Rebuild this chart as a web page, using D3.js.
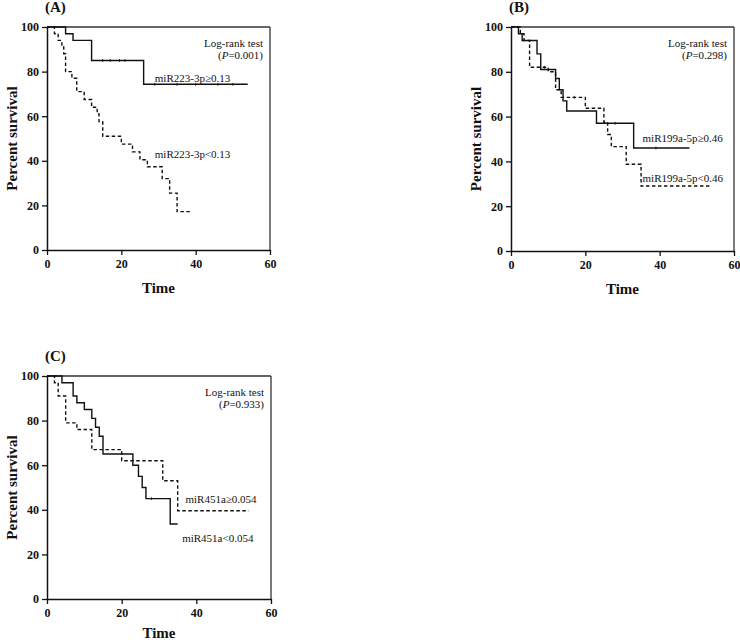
<!DOCTYPE html>
<html>
<head>
<meta charset="utf-8">
<script src="https://cdn.jsdelivr.net/npm/d3@7/dist/d3.min.js"></script>
<style>
  html, body { margin: 0; padding: 0; background: #fff; }
  svg { display: block; }
  text { font-family: "Liberation Serif", "Times New Roman", serif; fill: #111; }
</style>
</head>
<body>
<svg id="chart" width="740" height="643"></svg>
<script>
// ---------- data ----------
const xTicks = [0, 20, 40, 60];
const yTicks = [0, 20, 40, 60, 80, 100];

// Panel A: miR223-3p
const aHighTime = [0, 5, 7, 12, 26, 54];
const aHighSurv = [100, 97, 94, 85, 74.3, 74.3];
const aHighCens = [15, 17, 19.5, 21, 29, 35, 40, 46, 50];
const aLowTime = [0, 2, 3, 4, 4.5, 5, 6.7, 8, 10, 12, 13.5, 14, 15, 20, 23, 25, 27, 31, 33, 35, 39];
const aLowSurv = [100, 97, 94, 91, 88, 80, 77, 71, 67.5, 64, 61, 57.5, 51, 47.5, 44, 40.5, 37.3, 32, 25.5, 17.2, 17.2];

// Panel B: miR199a-5p
const bHighTime = [0, 2, 3, 7, 8, 12, 13, 14, 15, 23, 33, 48];
const bHighSurv = [100, 97, 94, 88, 81, 77, 72, 67, 62.5, 57, 46, 46];
const bHighCens = [28, 39];
const bLowTime = [0, 2.5, 3.5, 5, 10, 12, 13.5, 20, 25, 26, 27, 31, 35, 54];
const bLowSurv = [100, 97, 94, 82, 80, 72, 68.6, 63.7, 57.5, 52, 46.6, 38.7, 29, 29];
const bLowCens = [9, 17];

// Panel C: miR451a
const cHighTime = [0, 2, 3, 5, 8, 12, 20, 31, 35, 54];
const cHighSurv = [100, 97, 91, 79, 76, 67, 62, 53, 39.6, 39.6];
const cLowTime = [0, 4, 7, 8, 10, 12, 13, 14, 15, 23, 24.5, 25.5, 26.5, 33, 35];
const cLowSurv = [100, 97, 91, 88, 85, 81, 77, 73, 65, 60, 55, 50, 45, 33.6, 33.6];
const cLowCens = [28];

const panelLetters = ["(A)", "(B)", "(C)"];
const pValues = ["0.001", "0.298", "0.933"];
const seriesLabels = [
  ["miR223-3p\u22650.13", "miR223-3p<0.13"],
  ["miR199a-5p\u22650.46", "miR199a-5p<0.46"],
  ["miR451a\u22650.054", "miR451a<0.054"]
];

// ---------- layout ----------
const svg = d3.select("#chart");
const panels = [
  { left: 47, right: 270, top: 27, bottom: 250, timeOffset: 43,
    series: [
      { t: aHighTime, s: aHighSurv, c: aHighCens, dash: null },
      { t: aLowTime, s: aLowSurv, c: [], dash: "3.5,2.5" }
    ],
    labels: [ { t: 29, s: 77, anchor: "start" }, { t: 29, s: 43, anchor: "start" } ] },
  { left: 511, right: 734, top: 27, bottom: 251, timeOffset: 43,
    series: [
      { t: bHighTime, s: bHighSurv, c: bHighCens, dash: null },
      { t: bLowTime, s: bLowSurv, c: bLowCens, dash: "3.5,2.5" }
    ],
    labels: [ { t: 35.4, s: 50.4, anchor: "start" }, { t: 35.4, s: 32.6, anchor: "start" } ] },
  { left: 47, right: 271, top: 376, bottom: 599, timeOffset: 39,
    series: [
      { t: cHighTime, s: cHighSurv, c: [], dash: "3.5,2.5" },
      { t: cLowTime, s: cLowSurv, c: cLowCens, dash: null }
    ],
    labels: [ { t: 37.1, s: 44.8, anchor: "start" }, { t: 36.2, s: 27.3, anchor: "start" } ] }
];

panels.forEach((p, i) => {
  const x = d3.scaleLinear().domain([0, 60]).range([p.left, p.right]);
  const y = d3.scaleLinear().domain([0, 100]).range([p.bottom, p.top]);
  const g = svg.append("g");

  // frame (top & right)
  g.append("line").attr("x1", x(0)).attr("x2", x(60)).attr("y1", y(100)).attr("y2", y(100))
    .attr("stroke", "#333").attr("stroke-width", 1.3);
  g.append("line").attr("x1", x(60)).attr("x2", x(60)).attr("y1", y(100)).attr("y2", y(0))
    .attr("stroke", "#333").attr("stroke-width", 1.3);

  // axes
  const xAxis = d3.axisBottom(x).tickValues(xTicks).tickSize(5).tickSizeOuter(0).tickPadding(4);
  const yAxis = d3.axisLeft(y).tickValues(yTicks).tickSize(5).tickSizeOuter(0).tickPadding(3);
  const gx = g.append("g").attr("transform", `translate(0,${p.bottom})`).call(xAxis);
  const gy = g.append("g").attr("transform", `translate(${p.left},0)`).call(yAxis);
  [gx, gy].forEach(ax => {
    ax.select(".domain").attr("stroke", "#111").attr("stroke-width", 1.5);
    ax.selectAll(".tick line").attr("stroke", "#111").attr("stroke-width", 1.3);
    ax.selectAll(".tick text").attr("font-family", "Liberation Serif").attr("font-weight", "bold")
      .attr("font-size", 12).attr("fill", "#111");
  });

  // axis titles
  g.append("text").attr("x", (p.left + p.right) / 2).attr("y", p.bottom + p.timeOffset)
    .attr("text-anchor", "middle").attr("font-weight", "bold").attr("font-size", 15).text("Time");
  g.append("text")
    .attr("transform", `translate(${p.left - 30},${(p.top + p.bottom) / 2}) rotate(-90)`)
    .attr("text-anchor", "middle").attr("font-weight", "bold").attr("font-size", 15)
    .text("Percent survival");

  // panel letter
  g.append("text").attr("x", p.left - 2).attr("y", p.top - 15)
    .attr("font-weight", "bold").attr("font-size", 15).text(panelLetters[i]);

  // log-rank text
  g.append("text").attr("x", p.right - 7).attr("y", y(100) + 20)
    .attr("text-anchor", "end").attr("font-size", 11).text("Log-rank test");
  const pt = g.append("text").attr("x", p.right - 7).attr("y", y(100) + 32)
    .attr("text-anchor", "end").attr("font-size", 11);
  pt.append("tspan").text("(");
  pt.append("tspan").attr("font-style", "italic").text("P");
  pt.append("tspan").text("=" + pValues[i] + ")");

  // survival curves
  const line = d3.line().curve(d3.curveStepAfter).x(d => x(d[0])).y(d => y(d[1]));
  p.series.forEach((sr, k) => {
    const pts = sr.t.map((tv, j) => [tv, sr.s[j]]);
    g.append("path").datum(pts).attr("d", line).attr("fill", "none")
      .attr("stroke", "#111").attr("stroke-width", 1.4)
      .attr("stroke-dasharray", sr.dash);
    // censor marks
    const survAt = tv => { let v = sr.s[0]; sr.t.forEach((tt, j) => { if (tt <= tv) v = sr.s[j]; }); return v; };
    g.selectAll(null).data(sr.c).enter().append("line")
      .attr("x1", d => x(d)).attr("x2", d => x(d))
      .attr("y1", d => y(survAt(d)) - 1.5).attr("y2", d => y(survAt(d)) + 1.5)
      .attr("stroke", "#111").attr("stroke-width", 0.8);
    // label
    const lb = p.labels[k];
    g.append("text").attr("x", x(lb.t)).attr("y", y(lb.s) + 4)
      .attr("text-anchor", lb.anchor).attr("font-size", 11).text(seriesLabels[i][k]);
  });
});
</script>
</body>
</html>
